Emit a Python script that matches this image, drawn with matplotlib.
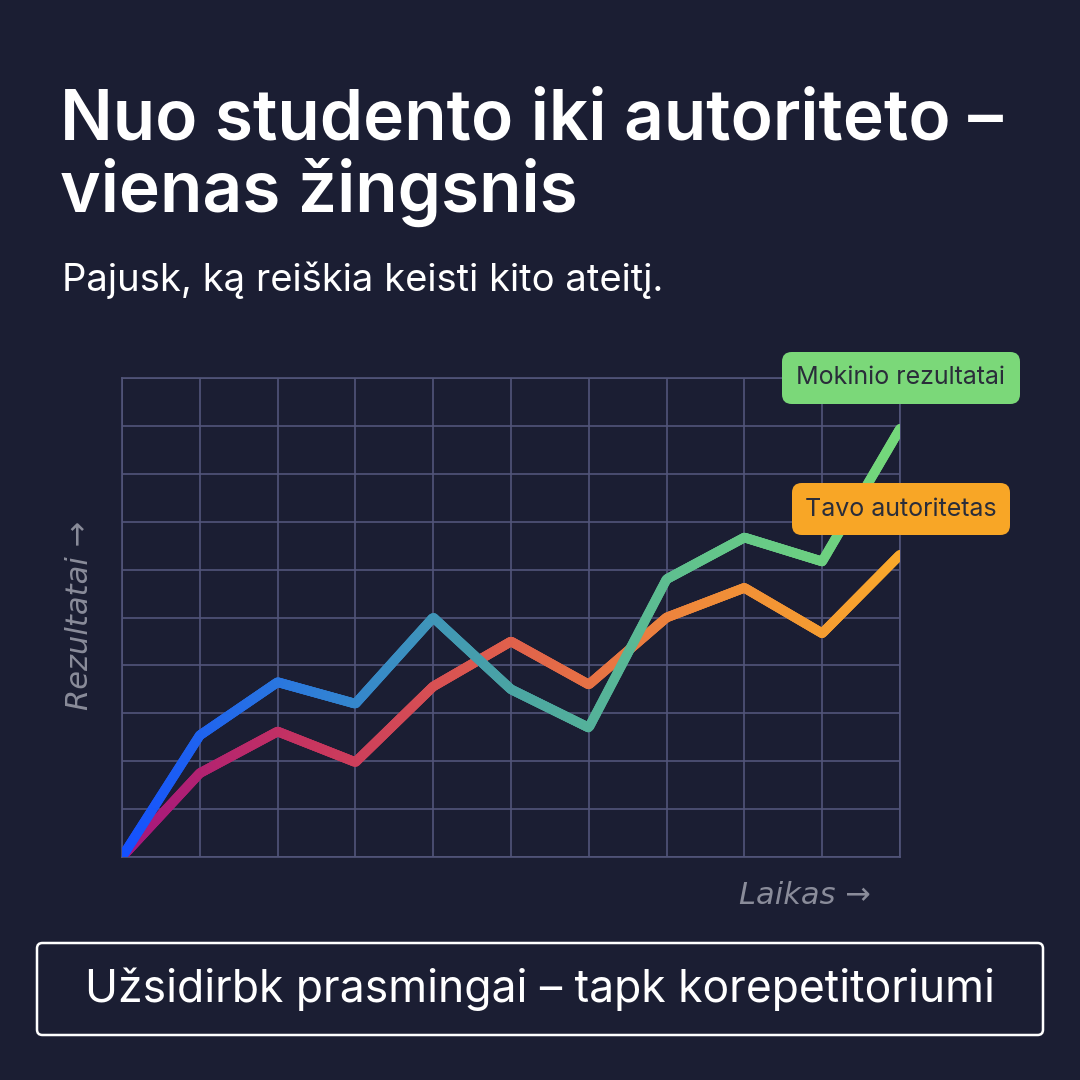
import matplotlib
matplotlib.use("Agg")
import matplotlib.pyplot as plt
import numpy as np
from matplotlib.collections import LineCollection
from matplotlib.colors import LinearSegmentedColormap
from matplotlib.patches import FancyBboxPatch

x = list(range(11))
mokinio = [0, 2.54, 3.65, 3.2, 5.0, 3.5, 2.7, 5.8, 6.67, 6.17, 8.94]
autoritetas = [0, 1.75, 2.62, 1.98, 3.56, 4.5, 3.6, 5.0, 5.62, 4.67, 6.31]
title = "Nuo studento iki autoriteto –\nvienas žingsnis"
subtitle = "Pajusk, ką reiškia keisti kito ateitį."
label1 = "Mokinio rezultatai"
label2 = "Tavo autoritetas"
footer = "Užsidirbk prasmingai – tapk korepetitoriumi"

BG = "#1b1e33"
GRID = "#52557a"
fig = plt.figure(figsize=(10.8, 10.8), dpi=100, facecolor=BG)
ax = fig.add_axes([122/1080, 1-857/1080, 778/1080, 479/1080])
ax.set_facecolor(BG)
ax.set_xlim(0, 10); ax.set_ylim(0, 10)
ax.set_xticks(range(11)); ax.set_yticks(range(11))
ax.grid(True, color=GRID, lw=1.2)
ax.tick_params(length=0, labelbottom=False, labelleft=False)
for s in ax.spines.values():
    s.set_color(GRID); s.set_linewidth(1.2)

def grad_line(xs, ys, colors):
    xs = np.array(xs, float); ys = np.array(ys, float)
    xf = np.linspace(0, 10, 600); yf = np.interp(xf, xs, ys)
    pts = np.array([xf, yf]).T.reshape(-1, 1, 2)
    segs = np.concatenate([pts[:-1], pts[1:]], axis=1)
    cmap = LinearSegmentedColormap.from_list("g", colors)
    lc = LineCollection(segs, cmap=cmap, linewidth=7, capstyle="round", joinstyle="round", zorder=3)
    lc.set_array(xf[:-1] / 10)
    ax.add_collection(lc)

grad_line(x, autoritetas, ["#a3157e", "#c8365f", "#e0604c", "#ef8a3a", "#f9a82b"])
grad_line(x, mokinio, ["#1450ff", "#2f7fd8", "#4aa4a4", "#62c48c", "#74d87a"])

def tag(cx, cy, w, text, fc):
    h = 52
    fig.patches.append(FancyBboxPatch(((cx - w/2)/1080, 1-(cy+h/2)/1080), w/1080, h/1080,
        boxstyle="round,pad=0,rounding_size=0.009", transform=fig.transFigure, fc=fc, ec="none"))
    fig.text(cx/1080, 1-cy/1080, text, ha="center", va="center", fontsize=18, color="#2a2d3a", family="Inter")

tag(901, 378, 238, label1, "#7bd879")
tag(901, 509, 218, label2, "#f8a626")

fig.text(60/1080, 1-158/1080, title, fontsize=50, color="white", family="Inter", weight="semibold",
         va="center", ha="left", linespacing=1.08)
fig.text(62/1080, 1-280/1080, subtitle, fontsize=27.5, color="white", family="Inter", va="center", ha="left")
fig.text(80/1080, 1-615/1080, "Rezultatai →", rotation=90, fontsize=22, color="#8a8c9a",
         style="italic", family="DejaVu Sans", va="center", ha="center")
fig.text(805/1080, 1-895/1080, "Laikas →", fontsize=22, color="#8a8c9a",
         style="italic", family="DejaVu Sans", va="center", ha="center")

fig.patches.append(FancyBboxPatch((37/1080, 1-1035/1080), 1006/1080, 92/1080,
    boxstyle="round,pad=0,rounding_size=0.005", transform=fig.transFigure, fc="none", ec="white", lw=1.8))
fig.text(540/1080, 1-989/1080, footer, fontsize=32, color="white", family="Inter", ha="center", va="center")

fig.savefig("out.png", dpi=100, facecolor=BG)
